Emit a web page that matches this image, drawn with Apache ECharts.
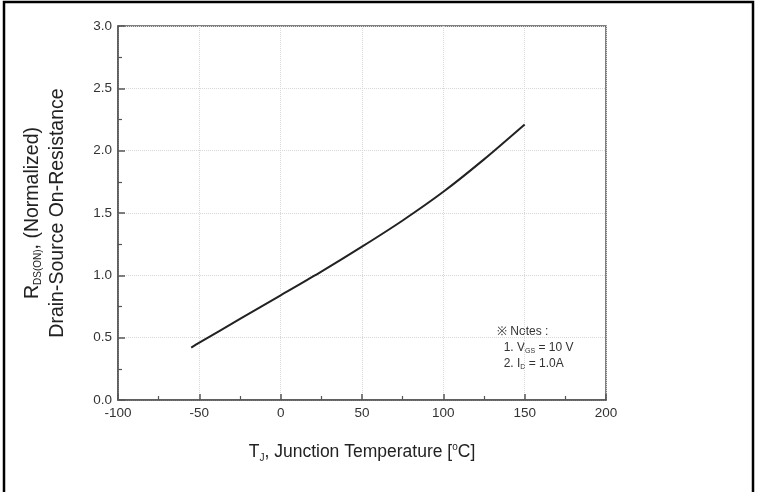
<!DOCTYPE html>
<html>
<head>
<meta charset="utf-8">
<script src="https://cdn.jsdelivr.net/npm/echarts@6/dist/echarts.min.js"></script>
<style>
html, body { margin: 0; padding: 0; background: #fff; }
#chart { width: 759px; height: 492px; }
</style>
</head>
<body>
<div id="chart"></div>
<script>
// junction temperature (°C) vs normalized on-resistance
var temps = [-55, -50, -25, 0, 25, 50, 75, 100, 125, 150];
var rdsOn = [0.42, 0.46, 0.65, 0.84, 1.03, 1.23, 1.44, 1.67, 1.93, 2.21];

var xTicks = { min: -100, max: 200, interval: 50 };
var yTicks = { min: 0, max: 3, interval: 0.5 };

var chart = echarts.init(document.getElementById('chart'));

var titleFont = 'Liberation Sans, Arial, sans-serif';

var option = {
    animation: false,
    backgroundColor: '#fff',
    grid: {
        left: 118, right: 153, top: 26, bottom: 92,
        show: true, borderColor: '#555', borderWidth: 1.5
    },
    xAxis: {
        type: 'value',
        min: xTicks.min, max: xTicks.max, interval: xTicks.interval,
        name: '{t|T}{s|J}{t|, Junction Temperature [}{sup|o}{t|C]}',
        nameLocation: 'middle',
        nameGap: 41,
        nameTextStyle: {
            rich: {
                t: { fontSize: 17.5, color: '#222', fontFamily: titleFont },
                s: { fontSize: 10, color: '#222', fontFamily: titleFont, padding: [12, 0, 0, 0] },
                sup: { fontSize: 10, color: '#222', fontFamily: titleFont, padding: [0, 0, 10, 0] }
            }
        },
        axisLine: { show: true, onZero: false, lineStyle: { color: '#555', width: 1.5 } },
        axisTick: { show: true, inside: true, length: 6, lineStyle: { color: '#555', width: 1.5 } },
        minorTick: { show: true, splitNumber: 2, length: 4, lineStyle: { color: '#555', width: 1.2 } },
        axisLabel: { color: '#333', fontSize: 13.5, margin: 6, fontFamily: titleFont },
        splitLine: { show: true, lineStyle: { color: '#d8d8d8', type: 'dotted', width: 1 } }
    },
    yAxis: {
        type: 'value',
        min: yTicks.min, max: yTicks.max, interval: yTicks.interval,
        name: '{t|R}{s|DS(ON)}{t|, (Normalized)}\n{t|Drain-Source On-Resistance}',
        nameLocation: 'middle',
        nameRotate: 90,
        nameGap: 48,
        nameTextStyle: {
            lineHeight: 25,
            rich: {
                t: { fontSize: 19.5, color: '#222', fontFamily: titleFont, lineHeight: 25 },
                s: { fontSize: 10, color: '#222', fontFamily: titleFont, lineHeight: 25, padding: [12, 0, 0, 0] }
            }
        },
        axisLine: { show: true, onZero: false, lineStyle: { color: '#555', width: 1.5 } },
        axisTick: { show: true, inside: true, length: 7, lineStyle: { color: '#555', width: 1.5 } },
        minorTick: { show: true, splitNumber: 2, length: 4, lineStyle: { color: '#555', width: 1.2 } },
        axisLabel: {
            color: '#333', fontSize: 13.5, margin: 6, fontFamily: titleFont,
            formatter: function (v) { return v.toFixed(1); }
        },
        splitLine: { show: true, lineStyle: { color: '#d8d8d8', type: 'dotted', width: 1 } }
    },
    series: [{
        type: 'line',
        data: temps.map(function (t, i) { return [t, rdsOn[i]]; }),
        smooth: 0.25,
        showSymbol: false,
        lineStyle: { color: '#222', width: 2 }
    }],
    graphic: [
        {
            type: 'polyline',
            shape: { points: [[4, 492], [4, 2], [753, 2], [753, 492]] },
            style: { stroke: '#000', lineWidth: 2.5, fill: null }
        },
        {
            type: 'text',
            left: 497, top: 326,
            style: {
                text: '{t|\u203B Notes :}\n{t|  1. V}{s|GS}{t| = 10 V}\n{t|  2. I}{s|D}{t| = 1.0A}',
                rich: {
                    t: { fontSize: 12, fill: '#333', fontFamily: titleFont, lineHeight: 16 },
                    s: { fontSize: 7, fill: '#333', fontFamily: titleFont, lineHeight: 16, padding: [6, 0, 0, 0] }
                }
            }
        }
    ]
};

chart.setOption(option);
</script>
</body>
</html>
